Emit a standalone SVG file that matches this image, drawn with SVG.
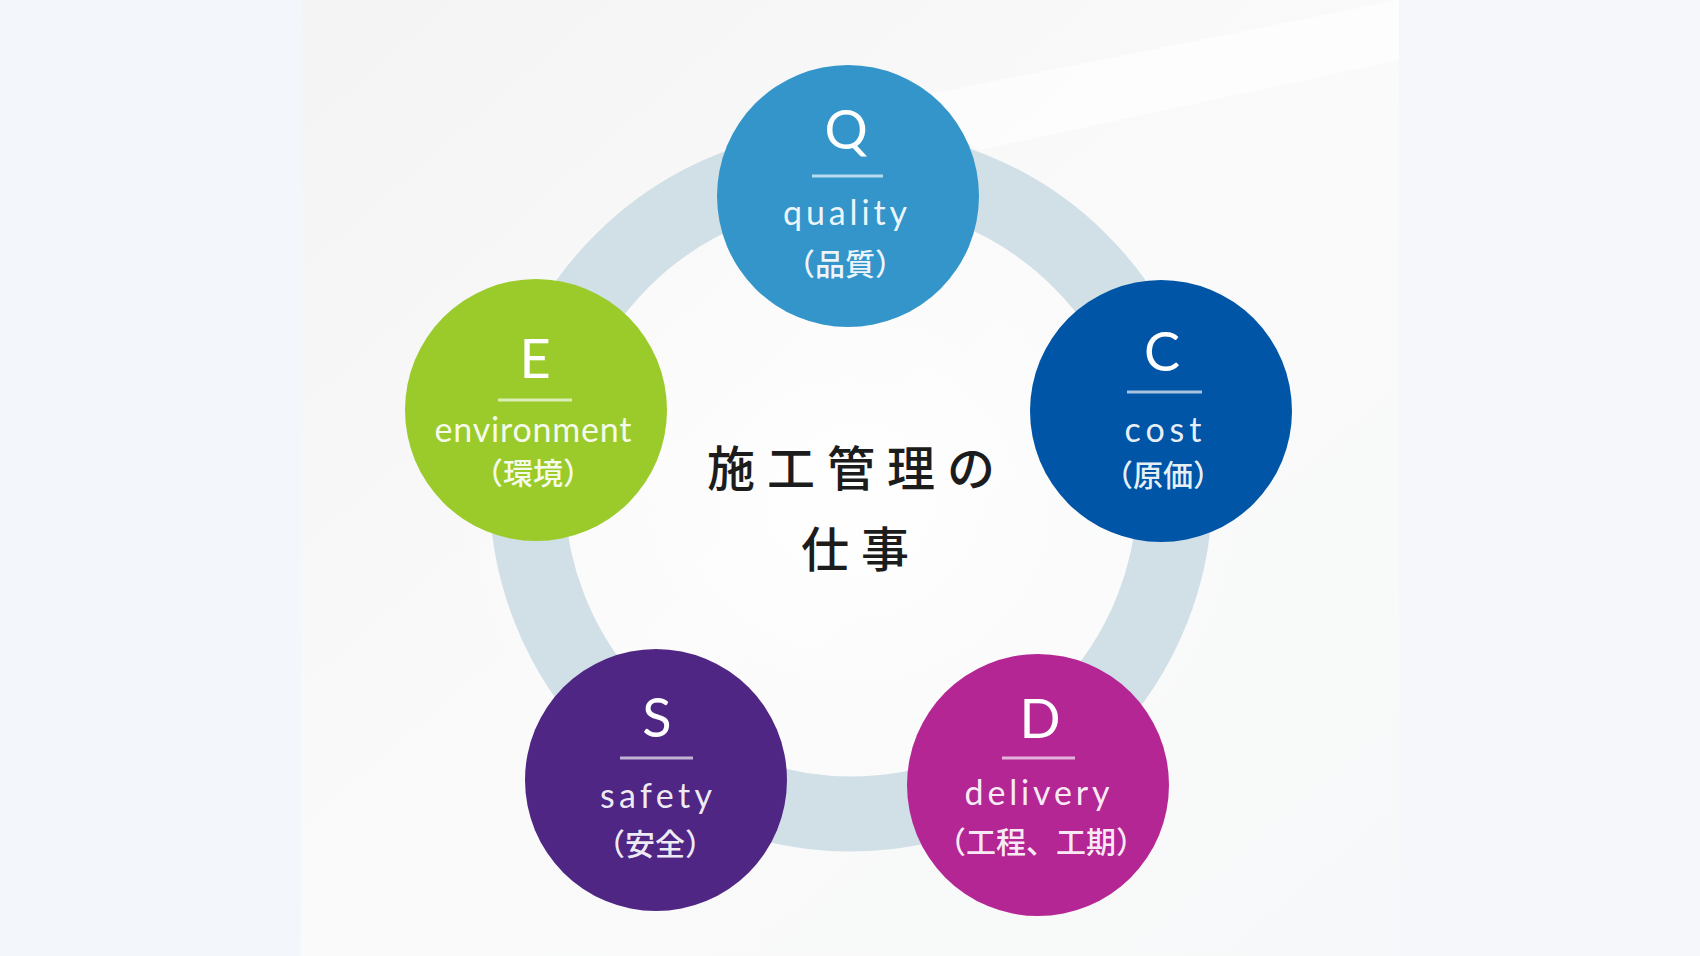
<svg xmlns="http://www.w3.org/2000/svg" width="1700" height="956" viewBox="0 0 1700 956">
<defs>
<linearGradient id="panel" x1="0" y1="0" x2="1" y2="1">
<stop offset="0" stop-color="#f4f4f4"/>
<stop offset="0.5" stop-color="#fafafa"/>
<stop offset="1" stop-color="#f7f8f9"/>
</linearGradient>
<radialGradient id="glow" cx="0.5" cy="0.5" r="0.5">
<stop offset="0" stop-color="#ffffff" stop-opacity="0.9"/>
<stop offset="1" stop-color="#ffffff" stop-opacity="0"/>
</radialGradient>
<style>
.letter{font-family:Lato,"Liberation Sans",sans-serif;font-size:54px;fill:#ffffff;text-anchor:middle}
.word{font-family:Lato,"Liberation Sans",sans-serif;font-size:34px;fill:#ffffff;fill-opacity:0.92;text-anchor:middle}
.jp{font-family:"Noto Sans CJK JP","Noto Sans",sans-serif;font-size:30px;font-weight:500;fill:#ffffff;fill-opacity:0.92;text-anchor:middle}
.rule{stroke:#ffffff;stroke-opacity:0.65;stroke-width:3}
.title{font-family:"Noto Sans CJK JP","Noto Sans",sans-serif;font-size:48px;font-weight:500;fill:#1c1c1c;text-anchor:middle;letter-spacing:12px}
</style>
</defs>
<rect x="0" y="0" width="1700" height="956" fill="#f3f6fa"/>
<rect x="1399" y="0" width="301" height="956" fill="#f5f7fa"/>
<rect x="301" y="0" width="1098" height="956" fill="url(#panel)"/>
<polygon points="900,100 1399,0 1399,60 980,150" fill="#ffffff" fill-opacity="0.6"/>
<ellipse cx="850" cy="500" rx="420" ry="380" fill="url(#glow)"/>

<g id="connectors">
<circle cx="851" cy="490" r="324" fill="none" stroke="#d1e0e6" stroke-width="75"/>
</g>

<g id="node-q">
<circle cx="848" cy="196" r="131" fill="#3495cb"/>
<text class="letter" x="846" y="149">Q</text>
<line class="rule" x1="812" y1="176" x2="883" y2="176"/>
<text class="word" x="845" y="225" textLength="124" lengthAdjust="spacing">quality</text>
<text class="jp" x="845" y="275">（品質）</text>
</g>

<g id="node-c">
<circle cx="1161" cy="411" r="131" fill="#0055a7"/>
<text class="letter" x="1162" y="371">C</text>
<line class="rule" x1="1127" y1="392" x2="1202" y2="392"/>
<text class="word" x="1163" y="442" textLength="77" lengthAdjust="spacing">cost</text>
<text class="jp" x="1163" y="486">（原価）</text>
</g>

<g id="node-e">
<circle cx="536" cy="410" r="131" fill="#9acb2b"/>
<text class="letter" x="535" y="378">E</text>
<line class="rule" x1="498" y1="400" x2="572" y2="400"/>
<text class="word" x="533" y="442" textLength="197" lengthAdjust="spacing">environment</text>
<text class="jp" x="533" y="484">（環境）</text>
</g>

<g id="node-s">
<circle cx="656" cy="780" r="131" fill="#4f2684"/>
<text class="letter" x="657" y="737">S</text>
<line class="rule" x1="620" y1="758" x2="693" y2="758"/>
<text class="word" x="656" y="808" textLength="112" lengthAdjust="spacing">safety</text>
<text class="jp" x="655" y="855">（安全）</text>
</g>

<g id="node-d">
<circle cx="1038" cy="785" r="131" fill="#b52695"/>
<text class="letter" x="1040" y="738">D</text>
<line class="rule" x1="1002" y1="758" x2="1075" y2="758"/>
<text class="word" x="1037" y="805" textLength="145" lengthAdjust="spacing">delivery</text>
<text class="jp" x="1041" y="853">（工程、工期）</text>
</g>

<g id="center">
<text class="title" x="857" y="486">施工管理の</text>
<text class="title" x="861" y="567">仕事</text>
</g>
</svg>
